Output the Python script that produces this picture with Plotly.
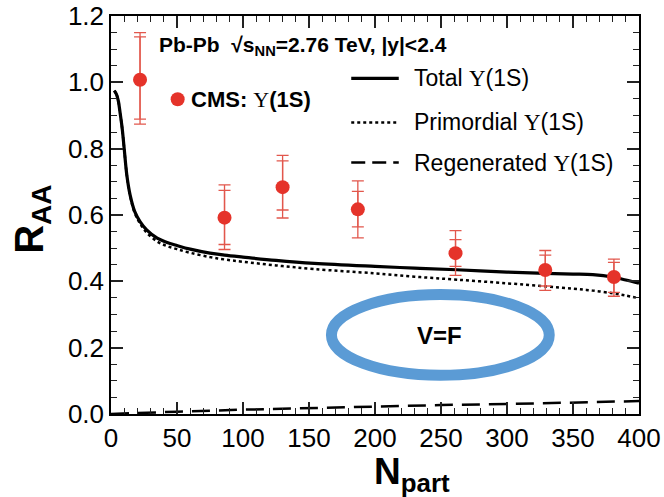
import plotly.graph_objects as go

# ---- data ----
cms_npart = [22, 86, 130, 187, 261, 329, 381]
cms_raa = [1.008, 0.592, 0.684, 0.617, 0.485, 0.434, 0.413]
cms_outer_up = [0.142, 0.099, 0.096, 0.086, 0.068, 0.059, 0.054]
cms_outer_dn = [0.134, 0.096, 0.093, 0.086, 0.067, 0.061, 0.058]
cms_inner_up = [0.129, 0.082, 0.079, 0.054, 0.041, 0.045, 0.044]
cms_inner_dn = [0.119, 0.081, 0.069, 0.053, 0.040, 0.048, 0.046]

curve_npart = [2.5, 4, 5.5, 7, 8.5, 10, 12, 14.5, 18, 22, 27, 35, 42, 50, 60, 75, 86,
               100, 125, 154, 200, 230, 262, 300, 329, 350, 365, 380, 390, 400]
total_raa = [0.975, 0.965, 0.945, 0.905, 0.86, 0.80, 0.72, 0.66, 0.61, 0.58, 0.555, 0.53,
             0.518, 0.508, 0.497, 0.485, 0.479, 0.473, 0.463, 0.454, 0.445, 0.440, 0.435,
             0.428, 0.424, 0.422, 0.420, 0.413, 0.404, 0.394]
primordial_raa = [0.975, 0.965, 0.945, 0.905, 0.86, 0.80, 0.72, 0.658, 0.606, 0.574, 0.547,
                  0.52, 0.507, 0.497, 0.486, 0.473, 0.466, 0.459, 0.448, 0.437, 0.424, 0.414,
                  0.405, 0.394, 0.385, 0.378, 0.372, 0.364, 0.357, 0.349]
regen_npart = [0, 25, 50, 100, 150, 200, 250, 300, 350, 400]
regen_raa = [0, 0.004, 0.007, 0.013, 0.018, 0.022, 0.027, 0.030, 0.034, 0.039]

FONT = "Liberation Sans, Arial, sans-serif"
RED = "#E5332A"
ERR = "#E2574C"
UPS = "<span style='font-family:Liberation Serif, serif'>Υ</span>"

fig = go.Figure()

fig.add_trace(go.Scatter(x=regen_npart, y=regen_raa, mode="lines",
                         line=dict(color="black", width=2.5, dash="18px,9px"),
                         showlegend=False, hoverinfo="skip"))
fig.add_trace(go.Scatter(x=curve_npart, y=primordial_raa, mode="lines",
                         line=dict(color="black", width=2.5, dash="dot", shape="spline"),
                         showlegend=False, hoverinfo="skip"))
fig.add_trace(go.Scatter(x=curve_npart, y=total_raa, mode="lines",
                         line=dict(color="black", width=3.2, shape="spline"),
                         showlegend=False, hoverinfo="skip"))

fig.add_trace(go.Scatter(x=cms_npart, y=cms_raa, mode="markers",
                         marker=dict(size=0.1, color=ERR, opacity=0),
                         error_y=dict(type="data", array=cms_outer_up, arrayminus=cms_outer_dn,
                                      symmetric=False, color=ERR, thickness=1.3, width=6),
                         showlegend=False, hoverinfo="skip"))
fig.add_trace(go.Scatter(x=cms_npart, y=cms_raa, mode="markers",
                         marker=dict(size=14, color=RED),
                         error_y=dict(type="data", array=cms_inner_up, arrayminus=cms_inner_dn,
                                      symmetric=False, color=ERR, thickness=1.3, width=6),
                         showlegend=False, hoverinfo="skip"))

# legend-like marker for CMS
fig.add_trace(go.Scatter(x=[50.5], y=[0.949], mode="markers",
                         marker=dict(size=14, color=RED), showlegend=False, hoverinfo="skip"))

# legend lines
fig.add_trace(go.Scatter(x=[182, 218], y=[1.012, 1.012], mode="lines",
                         line=dict(color="black", width=3.2), showlegend=False, hoverinfo="skip"))
fig.add_trace(go.Scatter(x=[182, 218], y=[0.879, 0.879], mode="lines",
                         line=dict(color="black", width=2.5, dash="dot"), showlegend=False, hoverinfo="skip"))
fig.add_trace(go.Scatter(x=[182, 218], y=[0.758, 0.758], mode="lines",
                         line=dict(color="black", width=2.5, dash="14px,7px"), showlegend=False, hoverinfo="skip"))

# invisible trace on mirrored axes (top / right ticks)
fig.add_trace(go.Scatter(x=[0, 400], y=[0, 1.2], xaxis="x2", yaxis="y2", mode="markers",
                         marker=dict(opacity=0), showlegend=False, hoverinfo="skip"))

# ellipse
fig.add_shape(type="circle", xref="x", yref="y", x0=167, x1=332, y0=0.117, y1=0.360,
              line=dict(color="#5B9BD5", width=11))

ann = []
ann.append(dict(x=35, y=1.109, xref="x", yref="y", xanchor="left", yanchor="middle",
                text="<b>Pb-Pb  √s<sub>NN</sub>=2.76 TeV, |y|<2.4</b>",
                font=dict(size=21, family=FONT, color="black"), showarrow=False))
ann.append(dict(x=59, y=0.949, xref="x", yref="y", xanchor="left", yanchor="middle",
                text="<b>CMS: </b>" + UPS + "<b>(1S)</b>",
                font=dict(size=22, family=FONT, color="black"), showarrow=False))
for yy, lab in [(1.012, "Total "), (0.879, "Primordial "), (0.758, "Regenerated ")]:
    ann.append(dict(x=228, y=yy, xref="x", yref="y", xanchor="left", yanchor="middle",
                    text=lab + UPS + "(1S)",
                    font=dict(size=23, family=FONT, color="black"), showarrow=False))
ann.append(dict(x=249, y=0.238, xref="x", yref="y", xanchor="center", yanchor="middle",
                text="<b>V=F</b>", font=dict(size=24, family=FONT, color="black"),
                showarrow=False))
ann.append(dict(x=0.57, y=-0.15, xref="paper", yref="paper", xanchor="center", yanchor="middle",
                text="<b>N<sub>part</sub></b>", font=dict(size=37, family=FONT, color="black"),
                showarrow=False))
ann.append(dict(x=-0.15, y=0.49, xref="paper", yref="paper", xanchor="center", yanchor="middle",
                text="<b>R<sub>AA</sub></b>", textangle=-90,
                font=dict(size=40, family=FONT, color="black"), showarrow=False))

fig.update_layout(
    width=664, height=497,
    margin=dict(l=111, r=25, t=16, b=83),
    paper_bgcolor="white", plot_bgcolor="white",
    annotations=ann,
    font=dict(family=FONT, color="black"),
)

common_x = dict(range=[0, 400], dtick=50, tick0=0, ticks="inside", ticklen=12, tickwidth=1.5,
                tickcolor="#222222", showgrid=False, zeroline=False, automargin=False,
                minor=dict(ticks="inside", ticklen=6, dtick=10, tickwidth=1.3,
                           tickcolor="#222222", showgrid=False))
common_y = dict(range=[0, 1.2], dtick=0.2, tick0=0, ticks="inside", ticklen=12, tickwidth=1.5,
                tickcolor="#222222", showgrid=False, zeroline=False, automargin=False,
                minor=dict(ticks="inside", ticklen=6, dtick=0.05, tickwidth=1.3,
                           tickcolor="#222222", showgrid=False))

fig.update_layout(
    xaxis=dict(**common_x, showline=True, linecolor="black", linewidth=1.5, mirror=True,
               tickfont=dict(size=26, family=FONT, color="black")),
    yaxis=dict(**common_y, showline=True, linecolor="black", linewidth=1.5, mirror=True,
               tickformat=".1f", tickfont=dict(size=26, family=FONT, color="black")),
    xaxis2=dict(**common_x, overlaying="x", side="top", matches="x", showticklabels=False,
                showline=False),
    yaxis2=dict(**common_y, overlaying="y", side="right", matches="y", showticklabels=False,
                showline=False),
)

fig.write_html("out.html")
